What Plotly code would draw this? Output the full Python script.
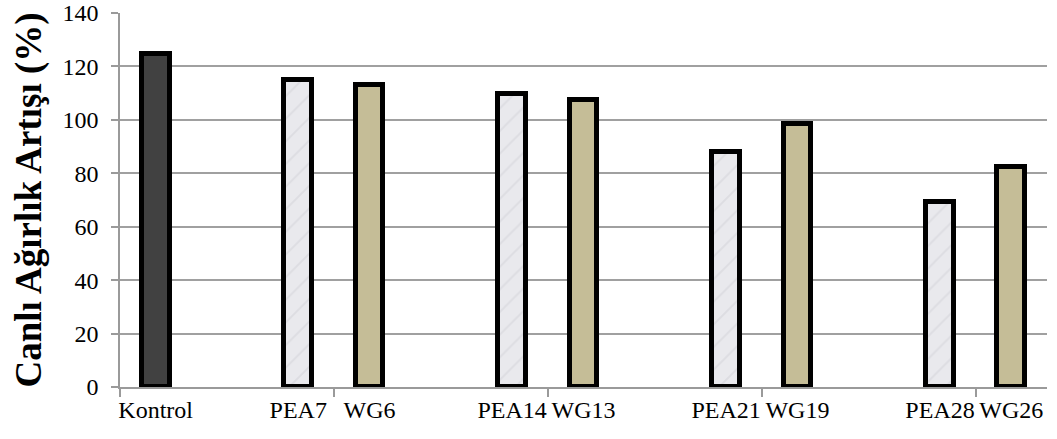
import plotly.graph_objects as go

# Category slots (blank slots are gaps in the original chart)
categories = ["Kontrol", "", "PEA7", "WG6", "", "PEA14", "WG13", "", "PEA21", "WG19", "", "PEA28", "WG26"]
values = [124.5, None, 115.0, 113.0, None, 109.7, 107.3, None, 88.1, 98.5, None, 69.1, 82.5]
groups = ["K", None, "P", "W", None, "P", "W", None, "P", "W", None, "P", "W"]
y_ticks = [0, 20, 40, 60, 80, 100, 120, 140]

colors = {"K": "#414141", "P": "#e9e9ed", "W": "#c5bd97"}

fig = go.Figure()
slot = list(range(len(categories)))
for g in ["K", "P", "W"]:
    xs = [slot[i] for i in range(len(categories)) if groups[i] == g]
    ys = [values[i] for i in range(len(categories)) if groups[i] == g]
    marker = dict(color=colors[g], line=dict(color="black", width=5))
    if g == "P":
        marker["pattern"] = dict(shape="/", fgcolor="#d2d2d7", bgcolor=colors[g], size=16, solidity=0.12)
    fig.add_trace(go.Bar(x=xs, y=ys, width=0.39, marker=marker, showlegend=False, hoverinfo="skip"))

label_x = [slot[i] for i in range(len(categories)) if categories[i]]
label_t = [c for c in categories if c]

fig.update_layout(
    width=1057, height=439,
    margin=dict(l=120, r=10, t=13, b=52),
    plot_bgcolor="white", paper_bgcolor="white",
    font=dict(family="Liberation Serif, Times New Roman, serif", size=24, color="black"),
    bargap=0,
)
fig.update_xaxes(
    range=[-0.5, 12.5], tickvals=label_x, ticktext=label_t, ticks="",
    showline=True, linecolor="#9a9a9a", linewidth=1.5, showgrid=False,
    tickfont=dict(size=24), zeroline=False, automargin=False,
    minor=dict(tickvals=[-0.5, 2.5, 5.5, 8.5, 11.5], ticks="outside", ticklen=8,
               tickcolor="#9a9a9a", tickwidth=1.5, showgrid=False),
)
fig.update_yaxes(
    range=[0, 140], tickvals=y_ticks, ticks="outside", ticklen=7,
    tickcolor="#9a9a9a", tickwidth=1.5,
    showline=True, linecolor="#9a9a9a", linewidth=1.5,
    showgrid=True, gridcolor="#a0a0a0", gridwidth=1.5, zeroline=False,
    tickfont=dict(size=24), automargin=False, ticklabeloverflow="allow",
    ticklabelstandoff=8,
    title=dict(text="<b>Canlı Ağırlık Artışı (%)</b>", font=dict(size=37), standoff=10),
)

fig.write_html("out.html", config={"displayModeBar": False},
               post_script="document.body.style.margin='0px';")
